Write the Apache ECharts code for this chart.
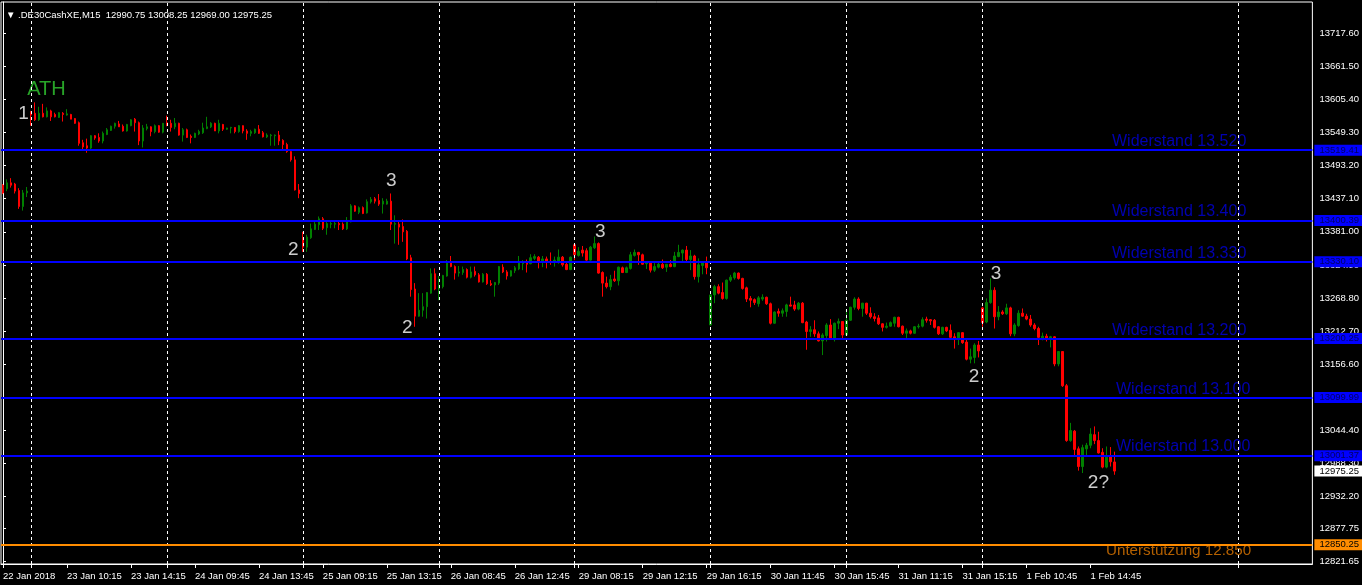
<!DOCTYPE html>
<html><head><meta charset="utf-8">
<script src="https://cdn.jsdelivr.net/npm/echarts@6/dist/echarts.min.js"></script>
<style>html,body{margin:0;padding:0;background:#000;}#c{width:1362px;height:585px;}</style>
</head><body><div id="c"></div>
<script>
// ---- data (15-minute bars, .DE30CashXE) ----
const open = [
13460,13454,13464,13462,13451,13424,13447,13585,13582,13571,
13582,13576,13586,13580,13575,13582,13579,13580,13573,13566,
13532,13527,13523,13544,13541,13535,13546,13553,13560,13564,
13560,13552,13561,13572,13566,13535,13556,13559,13551,13561,
13550,13566,13565,13559,13565,13545,13554,13543,13541,13547,
13549,13556,13559,13565,13552,13563,13555,13557,13558,13551,
13561,13552,13548,13549,13555,13549,13542,13544,13544,13545,
13536,13529,13517,13503,13452,13371,13355,13371,13385,13393,
13403,13388,13394,13394,13395,13394,13386,13398,13425,13414,
13422,13413,13432,13437,13434,13428,13428,13433,13394,13394,
13390,13382,13337,13284,13238,13248,13254,13277,13310,13284,
13288,13306,13330,13322,13311,13312,13317,13304,13314,13308,
13296,13309,13293,13291,13294,13321,13313,13306,13315,13318,
13327,13330,13327,13336,13338,13330,13335,13331,13330,13331,
13338,13326,13317,13359,13341,13350,13349,13333,13354,13361,
13312,13294,13288,13301,13298,13320,13312,13319,13341,13346,
13342,13327,13328,13316,13321,13326,13321,13326,13322,13339,
13345,13350,13334,13340,13305,13324,13328,13223,13274,13288,
13278,13268,13299,13303,13311,13302,13286,13268,13266,13259,
13267,13270,13259,13226,13246,13243,13246,13257,13257,13250,
13260,13228,13212,13215,13208,13196,13205,13223,13200,13226,
13229,13206,13231,13253,13267,13251,13260,13243,13237,13235,
13225,13219,13221,13226,13236,13221,13209,13213,13209,13220,
13221,13233,13232,13231,13220,13208,13219,13214,13203,13199,
13210,13194,13165,13168,13189,13252,13228,13261,13282,13237,
13245,13242,13252,13208,13222,13243,13238,13233,13223,13217,
13201,13204,13201,13203,13157,13178,13120,13027,13043,13013,
12983,13013,13019,13037,13027,13007,12982,13000,12990.75
];
const high = [
13462,13470,13472,13464,13455,13452,13457,13586,13600.5,13593,
13598,13592,13588,13583,13584,13584,13589,13581,13574,13568,
13537,13539,13545,13545,13548,13551,13557,13561,13566,13569,
13563,13564,13572,13574,13568,13562,13564,13560,13563,13562,
13565.5,13578,13571,13574,13566,13557,13556,13546,13549,13554,
13566,13576,13567,13566,13571,13564,13557.5,13559,13558.5,13562,
13561.5,13555,13554,13556,13562,13552,13548,13547,13546,13552,
13538,13532,13521,13509,13462,13381,13376,13395,13401,13407,
13406,13398,13400,13398,13398,13397,13406,13428,13426,13424,
13424,13436,13440,13440,13445,13438,13437,13446,13409,13401,
13402,13384,13342,13294,13277,13277,13278.5,13319,13319,13306,
13308,13333,13340,13324,13323,13322,13319,13322,13322,13311,
13311,13311,13299,13296,13323,13326,13316,13316,13323,13340,
13333,13334,13343,13343,13340,13340,13339,13346,13339,13351,
13340,13330,13339,13362,13355,13357,13353,13357,13373,13363,
13314,13305,13308,13315,13322,13322,13322,13347,13351,13347,
13344,13330,13329,13328,13329,13334,13326.5,13333,13347,13359,
13351,13357,13350,13342,13336,13329,13339,13274.5,13291,13292,
13295,13300,13308,13313,13312,13303,13288,13272,13268,13272,
13275,13271,13261,13246,13251,13251,13259,13271,13264,13262,
13262,13230,13221,13231,13212,13209,13226,13233,13227,13234,
13229.5,13245,13254,13270,13270,13260.5,13260.5,13253,13243,13240,
13226,13227,13229,13237,13237,13222,13217,13215,13221,13225,
13236,13237,13233,13233,13221,13220,13220,13224,13209,13210.5,
13211,13200,13183,13192,13196,13254,13268,13302,13287,13255,
13248,13259,13254,13226,13248,13251,13242,13240,13226,13220,
13210,13208,13204.5,13204,13178.5,13178.5,13123,13057,13045,13017,
13020,13023,13048,13051,13042,13014,13017,13016,13008.25
];
const low = [
13445,13450,13456,13446,13420,13417,13440,13561,13569,13569,
13575,13575,13569,13575,13574,13568,13578,13572,13564,13527,
13520,13515,13520,13537,13532,13531,13545,13552,13556,13559,
13551,13551,13560,13551,13528,13524,13553,13543,13548,13549,
13548,13560,13551,13555,13544,13534,13540,13531,13540,13545,
13547,13555,13557,13552,13548,13552,13554,13548,13548,13549,
13548,13537,13543,13547,13547,13541,13540,13527,13527,13528,
13518,13515,13500,13451,13438,13347,13347,13369,13384,13384,
13384,13376,13387,13387,13384,13384,13384,13397,13415,13411,
13411,13412,13429,13429,13425,13412,13427,13384,13361,13359,
13364,13333,13271,13220,13237,13237,13234,13276,13282,13265,
13285,13305,13321,13300,13305,13308,13302,13302,13305,13295,
13295,13291,13289,13271,13291,13311,13300,13305,13311,13316,
13316,13312,13326,13333,13319,13321,13319,13325,13322,13327,
13322,13316,13316,13333,13339,13339,13332,13332,13352,13310,
13271,13285,13282,13296,13290,13311,13311,13317,13339,13325,
13325,13318,13312,13313,13319,13318,13313,13321,13321,13338,
13329,13329,13316,13300,13295,13309,13309,13222,13260,13275,
13266,13266,13296,13300,13300,13283,13262,13253,13257,13254,
13264,13257,13224,13225,13237,13237,13237,13254.5,13247,13248,
13226,13181,13203,13203,13195,13172,13195,13199,13195,13216,
13200,13205,13230,13249,13248,13237,13240,13234,13229,13223,
13212,13217,13220,13220,13219,13206,13200,13207,13208,13217,
13219,13227,13223,13217,13206,13206,13211,13200,13183,13189,
13191,13163,13158,13158,13168,13220,13226,13259,13217,13231,
13240,13240,13204,13204,13220,13237,13231,13220,13214,13189,
13197,13195,13185,13153,13153,13118,13025,13025,13002,12976,
12972,13000,13014,13021,13005,12980,12980,12983,12969.00
];
const close = [
13447,13464,13460,13450,13424,13447,13450,13579,13571,13582,
13576,13586,13576,13576,13583,13580,13581,13572,13565,13531,
13525,13523,13544,13540,13535,13548,13554,13560,13565,13559,
13552,13563,13571,13566,13535,13557,13559,13551,13561,13550,
13565,13564,13558,13565,13545,13554,13541,13541,13548,13551,
13557,13559,13565,13552,13565,13555,13557,13558,13551,13561,
13552,13548,13551,13555,13548,13542,13545,13545,13545,13535,
13529,13517,13503,13452,13446,13355,13372,13386,13394,13403,
13387,13395,13395,13395,13393,13386,13398,13425,13416,13422,
13412,13432,13436,13433,13428,13433,13433,13394,13395,13389,
13381,13335,13283,13238,13248,13254,13278,13310,13284,13290,
13307,13330,13322,13311,13313,13317,13304,13313,13308,13296,
13309,13293,13291,13295,13322,13313,13306,13315,13320,13328,
13330,13326,13337,13339,13330,13335,13330,13329,13333,13338,
13325,13317,13338,13342,13348,13345,13333,13355,13361,13311,
13294,13288,13300,13298,13321,13312,13320,13342,13346,13342,
13326,13328,13316,13322,13326,13320,13326,13322,13340,13346,
13350,13334,13340,13305,13325,13328,13320,13274,13288,13277,
13268,13299,13304,13311,13302,13285,13267,13265,13261,13269,
13270,13259,13226,13245,13243,13247,13257,13255,13250,13260,
13227,13212,13215,13208,13196,13206,13223,13200,13226,13229,
13206,13231,13253,13267,13251,13260,13243,13237,13234,13225,
13219,13221,13227,13236,13220,13209,13213,13209,13220,13221,
13232,13231,13230,13219,13208,13219,13213,13202,13200,13210,
13193,13165,13169,13189,13179,13227,13261,13282,13237,13245,
13242,13252,13208,13223,13243,13238,13233,13223,13217,13202,
13204,13200,13203,13157,13178,13120,13027,13044,13012,12983,
13015,13019,13038,13027,13006,12982,13001,12991,12975.25
];
const xTickLabels = ['22 Jan 2018','23 Jan 10:15','23 Jan 14:15','24 Jan 09:45','24 Jan 13:45','25 Jan 09:15',
  '25 Jan 13:15','26 Jan 08:45','26 Jan 12:45','29 Jan 08:15','29 Jan 12:15','29 Jan 16:15','30 Jan 11:45',
  '30 Jan 15:45','31 Jan 11:15','31 Jan 15:15','1 Feb 10:45','1 Feb 14:45'];
const yTickValues = [12821.65,12877.75,12932.20,12988.30,13044.40,13100.50,13156.60,13212.70,13268.80,
  13324.90,13381.00,13437.10,13493.20,13549.30,13605.40,13661.50,13717.60];
const daySeparators = [7,41,75,109,143,177,211,245,309];
const resistanceLevels = [13519.41,13400.39,13330.10,13200.25,13099.99,13001.37];
const supportLevel = 12850.25;
const lastPrice = 12975.25;
const header = '\u25BC .DE30CashXE,M15  12990.75 13008.25 12969.00 12975.25';
const waveText  = ['ATH','1','2','3','2','3','3','2','2?'];
const waveIdx   = [11, 5.25, 72.75, 97.25, 101.25, 149.5, 248.5, 243, 274.1];
const wavePrice = [13621.5, 13579.9, 13350.2, 13467.2, 13217.9, 13380.7, 13309.5, 13134.8, 12955.1];
const levelText  = ['Widerstand 13.520','Widerstand 13.400','Widerstand 13.330','Widerstand 13.200',
  'Widerstand 13.100','Widerstand 13.000','Unterstützung 12.850'];
const levelIdx   = [277.5, 277.5, 277.5, 277.5, 278.5, 278.5, 276];
const levelPrice = [13533.3, 13414.6, 13343.4, 13212.8, 13112.8, 13016.1, 12839.8];

// ---- chart ----
[high, low, close].forEach(a => { if (a.length !== open.length) throw new Error('length mismatch ' + a.length + ' vs ' + open.length); });
const N = 328;
const cats = Array.from({length: N}, (_, i) => String(i));
const candles = open.map((o, i) => [o, close[i], low[i], high[i]]);
const FONT = '"Liberation Sans", Arial, sans-serif';
const isLabel = i => i % 16 === 0 && i / 16 < xTickLabels.length;
const BLUE = '#0000ff', ORANGE = '#ff8c00';
const boxLabel = (v, bg, fg) => ({
  show: true, position: 'end', distance: 2, formatter: v.toFixed(2), backgroundColor: bg, color: fg,
  fontSize: 9.5, fontFamily: FONT, padding: [1, 8, 0, 5], lineHeight: 10
});
const levelLines = resistanceLevels.map(v => ({ yAxis: v, lineStyle: { color: BLUE, width: 2, type: 'solid' }, label: boxLabel(v, BLUE, '#000060') }));
levelLines.push({ yAxis: supportLevel, lineStyle: { color: ORANGE, width: 2, type: 'solid' }, label: boxLabel(supportLevel, ORANGE, '#000') });
levelLines.push({ yAxis: lastPrice, lineStyle: { color: 'rgba(0,0,0,0)', width: 1, type: 'solid' }, label: boxLabel(lastPrice, '#ffffff', '#000') });

const waveData = waveText.map((t, k) => ({
  value: [waveIdx[k], wavePrice[k]],
  label: { show: true, position: [0, 0], formatter: t, align: 'center', verticalAlign: 'middle',
    color: t === 'ATH' ? '#32cd32' : '#ffffff', fontSize: t === 'ATH' ? 20 : 19, fontFamily: FONT }
}));
const levelData = levelText.map((t, k) => ({
  value: [levelIdx[k], levelPrice[k]],
  label: { show: true, position: [0, 0], formatter: t, align: 'left', verticalAlign: 'middle',
    color: t.startsWith('Unter') ? '#e07800' : '#0000dd', fontSize: t.startsWith('Unter') ? 15.2 : 16, fontFamily: FONT }
}));

const chart = echarts.init(document.getElementById('c'), null, { renderer: 'canvas' });
chart.setOption({
  backgroundColor: '#000',
  animation: false,
  title: { text: header, left: 1, top: 5, textStyle: { color: '#fff', fontSize: 9.5, fontWeight: 'normal', fontFamily: FONT } },
  grid: { left: 1, right: 48, top: 2, bottom: 21, show: true, borderColor: '#fff', borderWidth: 1, backgroundColor: '#000' },
  xAxis: [{
    type: 'category', data: cats, boundaryGap: true,
    axisLine: { lineStyle: { color: '#fff' } },
    axisTick: { show: true, alignWithLabel: true, length: 4, interval: i => isLabel(i) || daySeparators.indexOf(i) >= 0, lineStyle: { color: '#fff' } },
    axisLabel: { interval: i => isLabel(i), formatter: (v, i) => xTickLabels[i / 16], color: '#fff', fontSize: 9.5, fontFamily: FONT, align: 'left', margin: 7 },
    splitLine: { show: false }
  }, { type: 'value', min: -0.5, max: N - 0.5, show: false }],
  yAxis: {
    type: 'value', position: 'right', min: 12817.7, max: 13770.7,
    axisLine: { show: true, lineStyle: { color: '#fff' } },
    axisTick: { show: true, length: 3, customValues: yTickValues, lineStyle: { color: '#fff' } },
    axisLabel: { customValues: yTickValues, formatter: v => v.toFixed(2), color: '#fff', fontSize: 9.5, fontFamily: FONT, margin: 7 },
    splitLine: { show: false }
  },
  series: [
    {
      type: 'scatter', xAxisIndex: 1, data: [], silent: true,
      markLine: { silent: true, symbol: ['none', 'none'], animation: false, label: { show: false },
        lineStyle: { color: '#fff', width: 1, type: [3, 3] },
        data: daySeparators.map(i => ({ xAxis: i })) }
    },
    {
      type: 'candlestick', data: candles, barWidth: 2, silent: true,
      itemStyle: { color: '#008000', color0: '#ff0000', borderColor: '#008000', borderColor0: '#ff0000', borderWidth: 1 },
      markLine: { silent: true, symbol: ['none', 'none'], animation: false, data: levelLines }
    },
    { type: 'scatter', xAxisIndex: 1, symbolSize: 1, itemStyle: { color: 'transparent' }, silent: true, data: waveData },
    { type: 'scatter', xAxisIndex: 1, symbolSize: 1, itemStyle: { color: 'transparent' }, silent: true, data: levelData }
  ]
});
</script>
</body></html>
